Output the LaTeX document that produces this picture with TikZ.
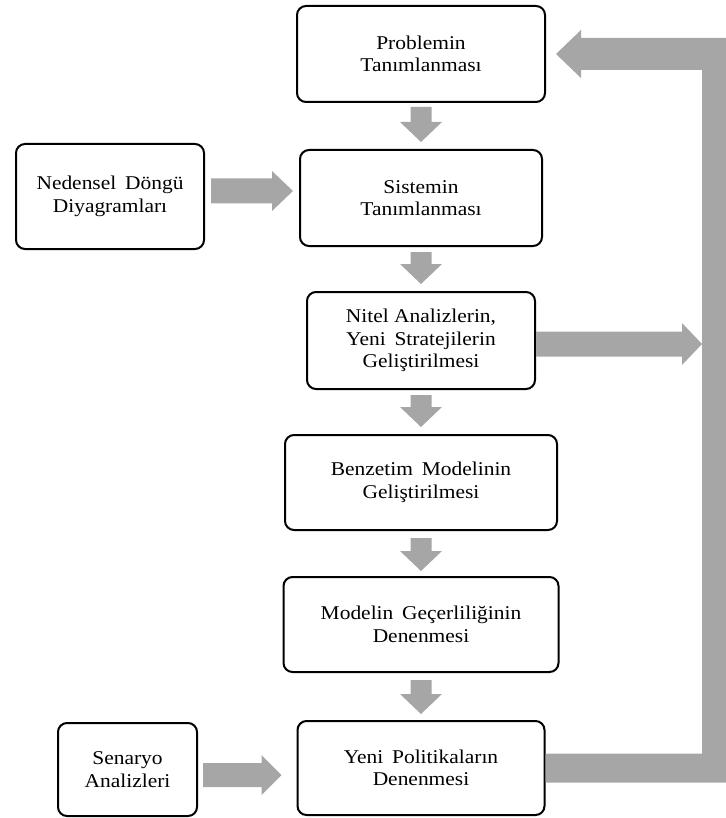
\documentclass[tikz,border=0pt]{standalone}
\usepackage{fontspec}
\setmainfont{Liberation Serif}[FakeStretch=1.1]
\usetikzlibrary{calc}
\definecolor{arrowgray}{RGB}{166,166,166}
\tikzset{
  stage/.style={draw=black, line width=2pt, rounded corners=9pt, fill=white,
    align=center, inner sep=0pt, text=black,
    font=\fontsize{19.5}{22.5}\selectfont},
  % filled block arrow: #1 half shaft width, #2 half head width, #3 head length
  blockarrow/.style n args={3}{fill=arrowgray, draw=none, to path={
    let \p1=(\tikztostart), \p2=(\tikztotarget), \p3=($(\p2)!#3!(\p1)$) in
    ($(\p1)!#1!90:(\p2)$) -- ($(\p3)!#1!90:(\p2)$) -- ($(\p3)!#2!90:(\p2)$)
    -- (\p2) -- ($(\p3)!#2!-90:(\p2)$) -- ($(\p3)!#1!-90:(\p2)$)
    -- ($(\p1)!#1!-90:(\p2)$) -- cycle}},
}
\begin{document}
\begin{tikzpicture}[x=1pt, y=-1pt]
\useasboundingbox (0,0) rectangle (725,818);

% main column
\node[stage, minimum width=248pt, minimum height=96pt] (prob)  at (421,54)    {Problemin\\Tanımlanması};
\node[stage, minimum width=242pt, minimum height=96pt] (sys)   at (421,198)   {Sistemin\\Tanımlanması};
\node[stage, minimum width=228pt, minimum height=97pt] (nitel) at (421,340.5) {Nitel Analizlerin,\\Yeni\hspace{0.45em}Stratejilerin\\Geliştirilmesi};
\node[stage, minimum width=272pt, minimum height=95pt] (benz)  at (421,482.5) {Benzetim\hspace{0.45em}Modelinin\\Geliştirilmesi};
\node[stage, minimum width=275pt, minimum height=95pt] (model) at (421,624.5) {Modelin\hspace{0.45em}Geçerliliğinin\\Denenmesi};
\node[stage, minimum width=247pt, minimum height=94pt] (yeni)  at (421,768)   {Yeni\hspace{0.45em}Politikaların\\Denenmesi};

% side inputs
\node[stage, minimum width=188pt, minimum height=105pt] (ned) at (110,196.5) {Nedensel\hspace{0.45em}Döngü\\Diyagramları};
\node[stage, minimum width=139pt, minimum height=93pt]  (sen) at (127.5,769.5) {Senaryo\\Analizleri};

% downward steps
\path[blockarrow={10.5pt}{21pt}{20pt}] ([yshift=-4pt]prob.south)  to ([yshift=7pt]sys.north);
\path[blockarrow={10.5pt}{21pt}{20pt}] ([yshift=-5pt]sys.south)   to ([yshift=7pt]nitel.north);
\path[blockarrow={10.5pt}{21pt}{20pt}] ([yshift=-5pt]nitel.south) to ([yshift=7pt]benz.north);
\path[blockarrow={10.5pt}{21pt}{20pt}] ([yshift=-7pt]benz.south)  to ([yshift=5pt]model.north);
\path[blockarrow={10.5pt}{21pt}{20pt}] ([yshift=-7pt]model.south) to ([yshift=6pt]yeni.north);

% side inputs into the column
\coordinate (nedout) at ($(ned.east)+(6,-5.5)$);
\path[blockarrow={12.5pt}{20pt}{21pt}] (nedout) to ($(nedout -| sys.west)+(-6,0)$);
\coordinate (senout) at ($(sen.east)+(5,5.5)$);
\path[blockarrow={12pt}{20pt}{20pt}] (senout) to ($(senout -| yeni.west)+(-15,0)$);

% feedback rail
\coordinate (railL) at (702,0);
\coordinate (railR) at (731,0);
\coordinate (nitelout) at ($(nitel.east)+(0,3.5)$);
\path[blockarrow={12.5pt}{21pt}{20pt}] (nitelout) to (nitelout -| railL);

\coordinate (fbA) at ($(yeni.east)+(0,-14.5)$);
\coordinate (fbK) at ($(yeni.east)+(0,14.5)$);
\coordinate (fbtip) at ($(prob.east)+(10,0)$);
\coordinate (shT) at ($(prob.east)+(0,-16)$);
\coordinate (shB) at ($(prob.east)+(0,16)$);
\coordinate (hdT) at ($(fbtip)+(25,-24)$);
\coordinate (hdB) at ($(fbtip)+(25,24)$);
\fill[arrowgray] (fbA) -- (fbA -| railL) -- (railL |- shB) -- (hdB |- shB) -- (hdB)
  -- (fbtip) -- (hdT) -- (hdT |- shT) -- (railR |- shT) -- (railR |- fbK) -- (fbK) -- cycle;
\end{tikzpicture}
\end{document}
